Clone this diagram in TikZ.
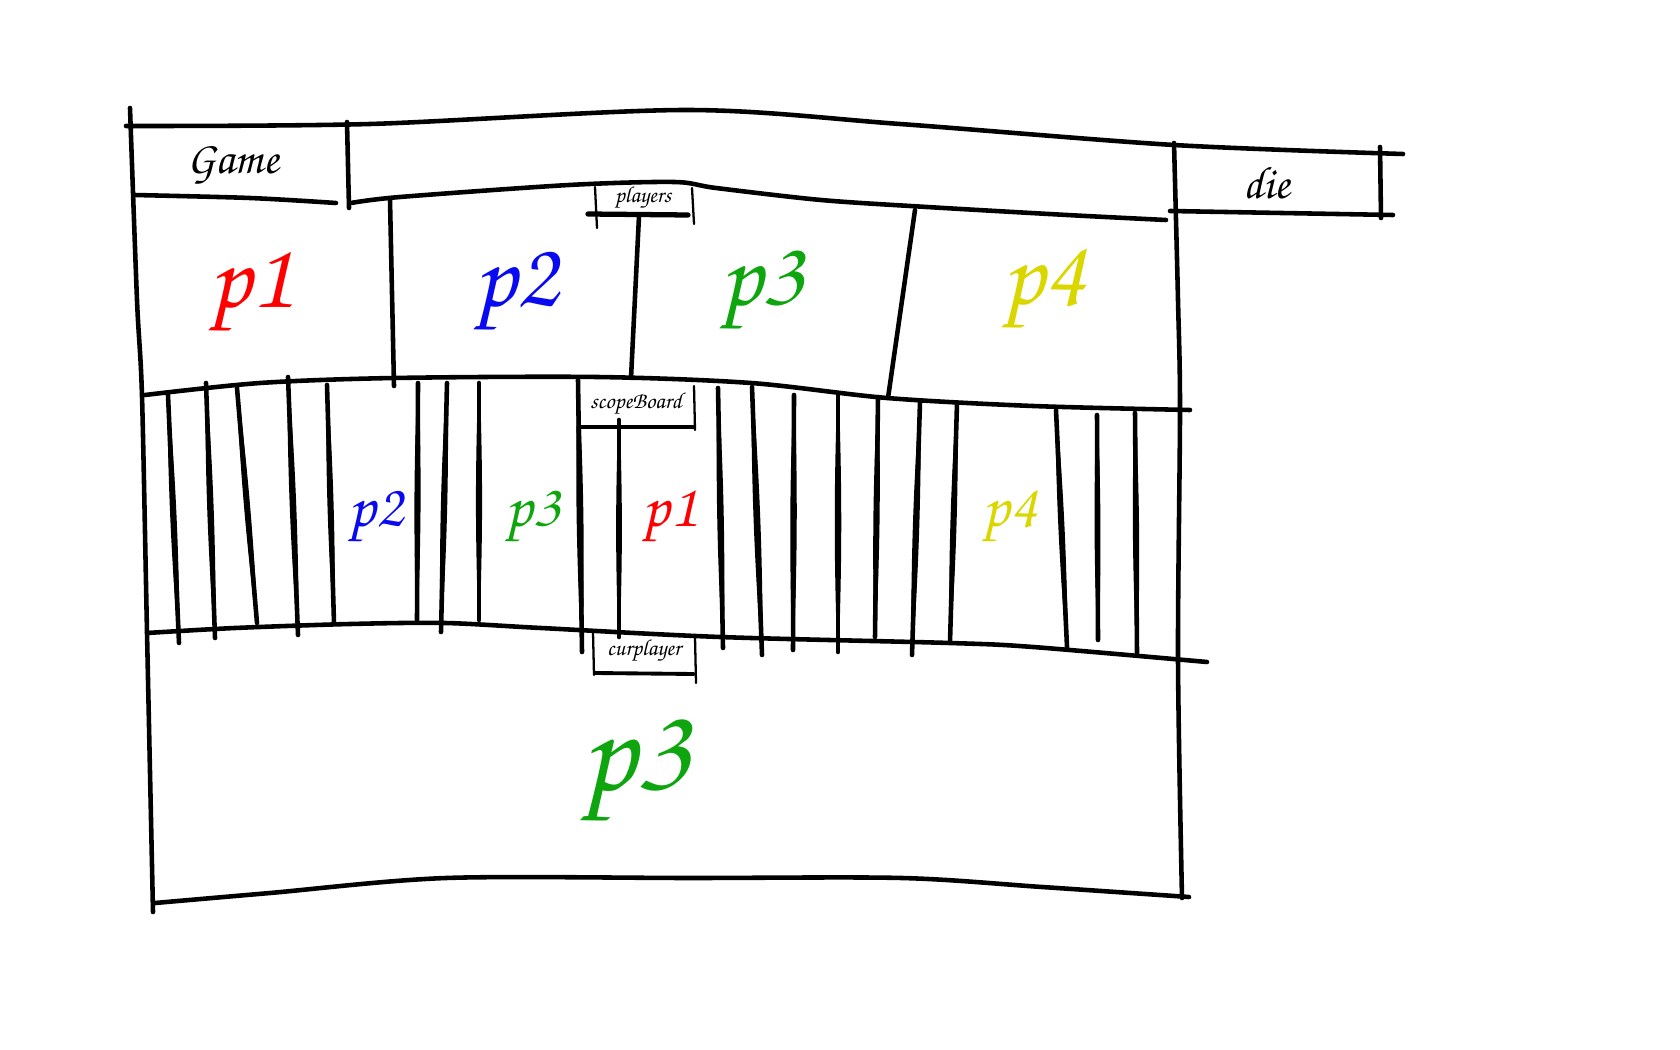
\documentclass[tikz,border=0pt]{standalone}
\usepackage[T1,TU]{fontenc}
\usepackage{tikz}
\newcommand\handfont{\fontencoding{T1}\fontfamily{pzc}\fontseries{mb}\fontshape{it}\selectfont}
\definecolor{pred}{RGB}{255,0,0}
\definecolor{pblue}{RGB}{10,10,240}
\definecolor{pgreen}{RGB}{15,165,15}
\definecolor{pyellow}{RGB}{218,214,0}
\newcommand\stripe[4]{\draw[line width=2.6pt] (#1,#2) -- (#3,#4);\filldraw[line width=1pt] (#1,#2) to[bend left=1.8] (#3,#4) to[bend left=1.8] (#1,#2);}
\begin{document}
\begin{tikzpicture}[x=0.02cm,y=-0.02cm,line cap=round,line join=round,
  ink/.style={line width=2.6pt},
  thinink/.style={line width=1.3pt},
  bigtext/.style={font=\handfont\fontsize{54}{58}\selectfont},
  midtext/.style={font=\handfont\fontsize{35}{38}\selectfont},
  hugetext/.style={font=\handfont\fontsize{70}{74}\selectfont},
  titletext/.style={font=\handfont\fontsize{26}{29}\selectfont},
  labeltext/.style={font=\handfont\fontsize{13}{15}\selectfont}]
\useasboundingbox (0,0) rectangle (1680,1050);
% outer frame
\draw[ink] plot[smooth] coordinates {(130,108) (137,300) (142,396) (147,632) (153,912)};
\draw[ink] plot[smooth] coordinates {(126,126) (370,124) (686,110) (900,124) (1174,145) (1403,154)};
\draw[ink] plot[smooth] coordinates {(1174,143) (1178,300) (1180,410) (1178,660) (1182,898)};
% Game box
\draw[ink] plot[smooth] coordinates {(134,195) (250,198) (336,203)};
\draw[ink] (347,122) -- (349,208);
\node[titletext] (game) at (233,165) {Game};
% die box
\draw[ink] (1380,147) -- (1381,218);
\draw[ink] (1170,211) -- (1393,215);
\node[titletext] (die) at (1267,183) {die};
% players row
\draw[ink] plot[smooth] coordinates {(351,203) (400,197) (569,185) (674,182) (716,188) (821,200) (927,207) (1067,215) (1166,220)};
\draw[thinink] (595,187) -- (597,228);
\draw[thinink] (692,188) -- (694,224);
\draw[line width=3pt] (588,214) -- (688,215);
\node[labeltext] (players) at (643,198) {players};
\draw[ink] (639,216) -- (631,378);
\draw[ink] (390,200) -- (394,386);
\draw[ink] (915,210) -- (888,398);
\node[bigtext,text=pred] (p1a) at (251,293) {p1};
\node[bigtext,text=pblue] (p2a) at (516,292) {p2};
\node[bigtext,text=pgreen] (p3a) at (762,291) {p3};
\node[bigtext,text=pyellow] (p4a) at (1044,290) {p4};
% scopeBoard row
\draw[ink] plot[smooth] coordinates {(145,395) (260,383) (394,378) (597,377) (751,383) (887,398) (1033,406) (1190,410)};
\draw[thinink] (694,386) -- (695,430);
\draw[line width=2.2pt] (580,427) -- (693,427);
\node[labeltext] (scopeBoard) at (636,404) {scopeBoard};
\stripe{168}{395}{179}{643}
\stripe{206}{383}{215}{638}
\stripe{237}{388}{257}{623}
\stripe{288}{377}{298}{635}
\stripe{327}{385}{334}{623}
\stripe{418}{383}{417}{620}
\stripe{447}{383}{441}{632}
\stripe{479}{383}{479}{620}
\stripe{578}{380}{582}{652}
\stripe{619}{420}{619}{637}
\stripe{718}{388}{723}{648}
\stripe{752}{387}{762}{655}
\stripe{794}{395}{793}{650}
\stripe{838}{393}{838}{652}
\stripe{878}{397}{875}{637}
\stripe{920}{402}{912}{655}
\stripe{957}{403}{950}{642}
\stripe{1056}{410}{1067}{647}
\stripe{1097}{415}{1098}{640}
\stripe{1135}{413}{1137}{653}
\draw[ink] plot[smooth] coordinates {(147,633) (235,628) (350,624) (445,623) (541,628) (720,637) (950,643) (1033,647) (1207,662)};
\node[midtext,text=pblue] (p2b) at (376,517) {p2};
\node[midtext,text=pgreen] (p3b) at (533,517) {p3};
\node[midtext,text=pred] (p1b) at (670,517) {p1};
\node[midtext,text=pyellow] (p4b) at (1010,517) {p4};
% curplayer
\draw[thinink] (593,632) -- (594,675);
\draw[thinink] (695,637) -- (696,683);
\draw[line width=2.2pt] (595,673) -- (694,674);
\node[labeltext] (curplayer) at (644,651) {curplayer};
\draw[ink] plot[smooth] coordinates {(155,903) (270,893) (446,878) (691,878) (902,878) (1042,887) (1189,897)};
\node[hugetext,text=pgreen] (p3c) at (636,772) {p3};
\end{tikzpicture}
\end{document}
